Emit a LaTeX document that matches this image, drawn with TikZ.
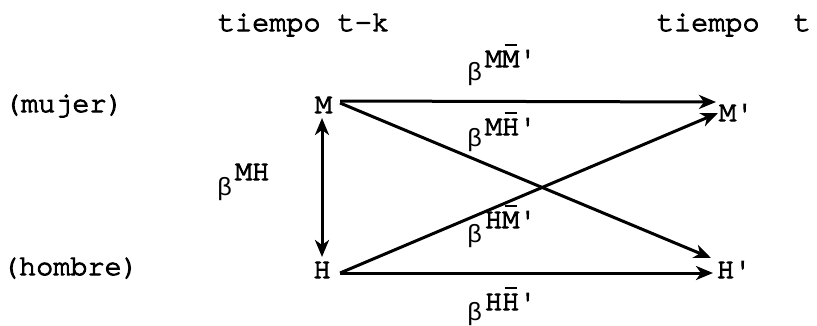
\documentclass[tikz,border=0pt]{standalone}
\usepackage{fontspec}
\setmainfont{texgyrecursor-regular.otf}[FakeBold=3.5]
\newfontfamily\grk{Liberation Mono}
\usetikzlibrary{arrows.meta}
\newcommand\ovl[1]{\leavevmode\rlap{\hspace{2.5pt}\raisebox{21pt}{\rule{12pt}{2pt}}}#1}
\newcommand\bsym{{\grk\fontsize{25}{27}\selectfont β}\hspace{3pt}}
\tikzset{
  txt/.style={inner sep=0pt, outer sep=0pt, font=\fontsize{28.5}{32}\selectfont},
  ltr/.style={txt, text height=16pt, text depth=0pt},
  tip/.style={Stealth[length=17pt,width=14pt,inset=5pt]},
  conn/.style={line width=3pt, -{Stealth[length=17pt,width=14pt,inset=5pt]}},
  dconn/.style={line width=3pt, {Stealth[length=17pt,width=14pt,inset=5pt]}-{Stealth[length=17pt,width=14pt,inset=5pt]}}
}
\begin{document}
\begin{tikzpicture}[x=1pt,y=-1pt]
\useasboundingbox (0,0) rectangle (817,325);
\node[txt, anchor=base west] (tk) at (218,31) {tiempo t-k};
\node[txt, anchor=base west] (tt) at (657,31) {tiempo~~t};
\node[txt, anchor=base west] (muj) at (4,112) {(mujer)};
\node[txt, anchor=base west] (hom) at (2,275) {(hombre)};
\node[ltr, anchor=base] (M) at (323.5,113) {M};
\node[ltr, anchor=base] (H) at (322,278) {H};
\node[ltr, anchor=base west] (Mp) at (719,121) {M\textquotesingle};
\node[ltr, anchor=base west] (Hp) at (717,278) {H\textquotesingle};
\node[txt, anchor=base west] (bMM) at (467,80) {\bsym\raisebox{13pt}{M\ovl{M}\textquotesingle}};
\node[txt, anchor=base west] (bMH) at (467,146) {\bsym\raisebox{11pt}{M\ovl{H}\textquotesingle}};
\node[txt, anchor=base west] (bV) at (217,195) {\bsym\raisebox{15pt}{MH}};
\node[txt, anchor=base west] (bHM) at (467,242) {\bsym\raisebox{14pt}{H\ovl{M}\textquotesingle}};
\node[txt, anchor=base west] (bHH) at (467,320) {\bsym\raisebox{10pt}{H\ovl{H}\textquotesingle}};
\draw[conn] ([shift={(8,-4)}]M.east) -- ([shift={(-3,-11)}]Mp.west);
\draw[conn] ([shift={(8,-2)}]M.east) -- ([shift={(-6,-12)}]Hp.west);
\draw[conn] ([shift={(9.5,3)}]H.east) -- ([shift={(-1,0)}]Mp.west);
\draw[conn] ([shift={(9.5,3)}]H.east) -- ([shift={(-4,3)}]Hp.west);
\draw[dconn] ([shift={(-1.5,5)}]M.south) -- ([shift={(0,-5)}]H.north);
\end{tikzpicture}
\end{document}
